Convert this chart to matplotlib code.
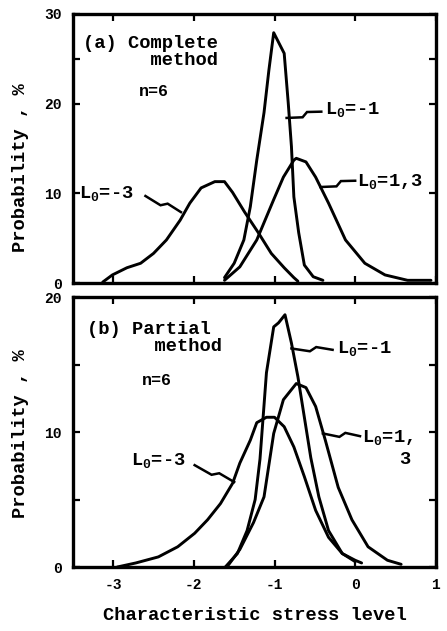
import numpy as np
import matplotlib
matplotlib.use("Agg")
import matplotlib.pyplot as plt
from matplotlib.ticker import MultipleLocator, FixedLocator

plt.rcParams['font.family'] = ['Liberation Mono', 'DejaVu Sans Mono']
plt.rcParams['font.weight'] = 'bold'
plt.rcParams['mathtext.fontset'] = 'custom'
plt.rcParams['mathtext.rm'] = 'Liberation Mono:bold'
plt.rcParams['mathtext.it'] = 'Liberation Mono:bold'
plt.rcParams['mathtext.bf'] = 'Liberation Mono:bold'

# (a) complete method, n=6
a_m3_x = [-3.13, -3.01, -2.83, -2.66, -2.50, -2.34, -2.17, -2.05, -1.91, -1.74, -1.62, -1.52,
          -1.37, -1.20, -1.04, -0.88, -0.76, -0.71]
a_m3_y = [0.1, 0.9, 1.7, 2.2, 3.3, 4.8, 7.0, 8.9, 10.6, 11.3, 11.3, 10.1,
          7.9, 5.6, 3.3, 1.7, 0.6, 0.2]
a_m1_x = [-1.62, -1.50, -1.38, -1.30, -1.22, -1.13, -1.07, -1.01, -0.88, -0.83, -0.79, -0.76,
          -0.70, -0.63, -0.52, -0.40]
a_m1_y = [0.6, 2.2, 4.8, 8.5, 13.7, 19.0, 23.7, 27.9, 25.6, 20.1, 15.2, 9.6,
          5.6, 2.0, 0.7, 0.3]
a_13_x = [-1.62, -1.43, -1.22, -1.01, -0.89, -0.76, -0.73, -0.61, -0.49, -0.33, -0.12, 0.12,
          0.37, 0.65, 0.94]
a_13_y = [0.3, 1.8, 4.8, 9.3, 11.8, 13.7, 13.9, 13.5, 11.8, 8.9, 4.8, 2.2,
          0.9, 0.3, 0.3]

# (b) partial method, n=6
b_m3_x = [-2.95, -2.72, -2.44, -2.20, -1.99, -1.83, -1.67, -1.52, -1.43, -1.30, -1.22, -1.10,
          -1.00, -0.88, -0.76, -0.63, -0.49, -0.33, -0.16, 0.00, 0.08]
b_m3_y = [0.0, 0.3, 0.75, 1.5, 2.5, 3.5, 4.7, 6.2, 7.7, 9.4, 10.7, 11.1,
          11.1, 10.4, 8.9, 6.7, 4.2, 2.2, 1.0, 0.5, 0.3]
b_m1_x = [-1.61, -1.46, -1.34, -1.24, -1.18, -1.10, -1.01, -0.95, -0.87, -0.79, -0.71, -0.63,
          -0.55, -0.45, -0.33, -0.16, 0.00]
b_m1_y = [0.0, 1.0, 2.7, 5.0, 8.0, 14.4, 17.8, 18.1, 18.7, 16.6, 14.1, 11.1,
          8.1, 5.2, 2.7, 1.0, 0.4]
b_13_x = [-1.59, -1.43, -1.26, -1.13, -1.01, -0.89, -0.73, -0.61, -0.49, -0.37, -0.21, -0.04,
          0.16, 0.40, 0.57]
b_13_y = [0.0, 1.3, 3.3, 5.2, 9.9, 12.4, 13.6, 13.3, 11.9, 9.4, 5.9, 3.5,
          1.5, 0.5, 0.2]

x_ticks = [-3, -2, -1, 0, 1]
x_labels = ['-3', '-2', '-1', '0', '1']

fig = plt.figure(figsize=(4.47, 6.31), dpi=100)
ax1 = fig.add_axes([0.163, 0.5515, 0.812, 0.4265])
ax2 = fig.add_axes([0.163, 0.1014, 0.812, 0.4276])

LW = 2.1


def zigzag(ax, p0, p1, h=2.2):
    # leader line with a small lightning kink, computed in pixel space
    tr = ax.transData
    a = tr.transform(p0)
    b = tr.transform(p1)
    d = b - a
    n = np.array([-d[1], d[0]]) / np.hypot(*d)
    pts = np.array([a, a + 0.45 * d - n * h, a + 0.6 * d + n * h, b])
    pts = tr.inverted().transform(pts)
    ax.plot(pts[:, 0], pts[:, 1], color='black', lw=1.8, solid_joinstyle='miter')


for ax in (ax1, ax2):
    ax.set_xlim(-3.5, 1)
    ax.set_xticks(x_ticks)
    ax.tick_params(which='both', direction='in', top=True, right=True,
                   length=5, width=1.6, labelsize=10.5, pad=8)
    for s in ax.spines.values():
        s.set_linewidth(2.4)

ax1.set_ylim(0, 30)
ax1.set_yticks([0, 10, 20, 30])
ax1.yaxis.set_minor_locator(FixedLocator([25]))
ax1.tick_params(labelbottom=False)
for xs, ys in [(a_m3_x, a_m3_y), (a_m1_x, a_m1_y), (a_13_x, a_13_y)]:
    ax1.plot(xs, ys, color='black', lw=LW, solid_joinstyle='round', solid_capstyle='round')

ax2.set_ylim(0, 20)
ax2.set_yticks([0, 10, 20])
ax2.yaxis.set_minor_locator(MultipleLocator(5))
ax2.set_xticklabels(x_labels)
for xs, ys in [(b_m3_x, b_m3_y), (b_m1_x, b_m1_y), (b_13_x, b_13_y)]:
    ax2.plot(xs, ys, color='black', lw=LW, solid_joinstyle='round', solid_capstyle='round')

fs = 13.5
# panel (a) texts
ax1.text(-3.38, 25.7, "(a) Complete\n      method", fontsize=fs, va='center', linespacing=1.0)
ax1.text(-2.68, 21.3, "n=6", fontsize=fs - 1.5, va='center')
ax1.text(-0.37, 19.3, r"L$_0$=-1", fontsize=fs, va='center')
ax1.text(0.02, 11.3, r"L$_0$=1,3", fontsize=fs, va='center')
ax1.text(-3.42, 10.0, r"L$_0$=-3", fontsize=fs, va='center')
zigzag(ax1, (-0.85, 18.4), (-0.42, 19.1))
zigzag(ax1, (-0.43, 10.7), (0.0, 11.4))
zigzag(ax1, (-2.60, 9.7), (-2.16, 7.9))

# panel (b) texts
ax2.text(-3.32, 16.95, "(b) Partial\n      method", fontsize=fs, va='center', linespacing=1.0)
ax2.text(-2.65, 13.85, "n=6", fontsize=fs - 1.5, va='center')
ax2.text(-0.22, 16.2, r"L$_0$=-1", fontsize=fs, va='center')
ax2.text(0.08, 9.6, r"L$_0$=1,", fontsize=fs, va='center')
ax2.text(0.55, 8.0, "3", fontsize=fs, va='center')
ax2.text(-2.78, 7.9, r"L$_0$=-3", fontsize=fs, va='center')
zigzag(ax2, (-0.79, 16.2), (-0.28, 16.1))
zigzag(ax2, (-0.40, 9.9), (0.06, 9.7))
zigzag(ax2, (-1.99, 7.55), (-1.50, 6.3))

fig.text(0.045, 0.734, "Probability , %", rotation=90, fontsize=fs, ha='center', va='center')
fig.text(0.045, 0.313, "Probability , %", rotation=90, fontsize=fs, ha='center', va='center')
fig.text(0.57, 0.025, "Characteristic stress level", fontsize=fs, ha='center', va='center')

fig.savefig("out.png", dpi=100)
